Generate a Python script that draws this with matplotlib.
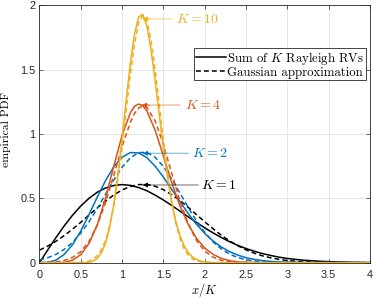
import matplotlib
matplotlib.use("Agg")
import matplotlib.pyplot as plt
from matplotlib.lines import Line2D

plt.rcParams['mathtext.fontset'] = 'cm'
plt.rcParams['axes.unicode_minus'] = False

# ---------------- data ----------------
x_k1 = [0.0, 0.1, 0.2, 0.3, 0.4, 0.5, 0.6, 0.7, 0.8, 0.9, 1.0, 1.1, 1.2, 1.3, 1.4,
        1.5, 1.6, 1.7, 1.8, 1.9, 2.0, 2.1, 2.2, 2.3, 2.4, 2.5, 2.6, 2.7, 2.8, 2.9,
        3.0, 3.2, 3.4, 3.6, 3.8, 4.0]
emp_k1 = [0, 0.0995, 0.196, 0.287, 0.369, 0.441, 0.501, 0.548, 0.581, 0.600,
          0.607, 0.601, 0.584, 0.559, 0.525, 0.487, 0.445, 0.401, 0.356, 0.313,
          0.271, 0.232, 0.196, 0.163, 0.135, 0.110, 0.089, 0.071, 0.056, 0.043,
          0.033, 0.019, 0.011, 0.006, 0.003, 0.001]
gau_k1 = [0.098, 0.129, 0.167, 0.211, 0.261, 0.314, 0.371, 0.426, 0.479, 0.527,
          0.565, 0.593, 0.607, 0.608, 0.594, 0.567, 0.529, 0.483, 0.430, 0.374,
          0.318, 0.264, 0.214, 0.170, 0.132, 0.100, 0.074, 0.053, 0.038, 0.026,
          0.017, 0.007, 0.003, 0.001, 0.0003, 0.0001]

x_k2 = x_k1
emp_k2 = [0, 0.003, 0.020, 0.065, 0.141, 0.247, 0.375, 0.511, 0.639, 0.746,
          0.820, 0.856, 0.853, 0.816, 0.750, 0.665, 0.570, 0.474, 0.382, 0.299,
          0.228, 0.169, 0.122, 0.086, 0.059, 0.039, 0.026, 0.016, 0.010, 0.006,
          0.004, 0.001, 0.0004, 0.0001, 0, 0]
gau_k2 = [0.022, 0.039, 0.065, 0.104, 0.158, 0.230, 0.319, 0.422, 0.534, 0.644,
          0.742, 0.815, 0.856, 0.857, 0.819, 0.747, 0.651, 0.541, 0.429, 0.325,
          0.235, 0.162, 0.107, 0.067, 0.040, 0.023, 0.013, 0.007, 0.003, 0.0015,
          0.0007, 0.0001, 0, 0, 0, 0]

x_k4 = [0.0, 0.2, 0.3, 0.4, 0.5, 0.6, 0.7, 0.8, 0.9, 1.0, 1.1, 1.15, 1.2, 1.25,
        1.3, 1.4, 1.5, 1.6, 1.7, 1.8, 1.9, 2.0, 2.1, 2.2, 2.3, 2.4, 2.5, 2.6,
        2.8, 3.0, 4.0]
emp_k4 = [0, 0, 0.003, 0.020, 0.063, 0.150, 0.296, 0.504, 0.752, 0.992,
          1.166, 1.215, 1.233, 1.220, 1.179, 1.029, 0.829, 0.623, 0.441, 0.297,
          0.190, 0.114, 0.065, 0.034, 0.016, 0.007, 0.003, 0.001, 0.0002, 0, 0]
gau_k4 = [0.0008, 0.0069, 0.0176, 0.0409, 0.0865, 0.1667, 0.2925, 0.4675, 0.6808,
          0.9033, 1.0917, 1.1589, 1.2020, 1.2179, 1.2057, 1.1018, 0.9172, 0.6956,
          0.4806, 0.3025, 0.1734, 0.0906, 0.0431, 0.0187, 0.0074, 0.0027, 0.0009,
          0.0003, 0, 0, 0]

x_k10 = [0.0, 0.5, 0.55, 0.6, 0.65, 0.7, 0.75, 0.8, 0.85, 0.9, 0.95, 1.0, 1.05,
         1.1, 1.15, 1.2, 1.25, 1.3, 1.35, 1.4, 1.45, 1.5, 1.55, 1.6, 1.65, 1.7,
         1.75, 1.8, 1.85, 1.9, 1.95, 2.0, 2.1, 2.2, 4.0]
emp_k10 = [0, 0, 0.0002, 0.0037, 0.0131, 0.0346, 0.0774, 0.1535, 0.2756, 0.4534,
           0.6885, 0.9678, 1.2690, 1.5530, 1.7784, 1.9100, 1.9287, 1.8361, 1.6525,
           1.4105, 1.1457, 0.8883, 0.6594, 0.4694, 0.3210, 0.2106, 0.1326, 0.0798,
           0.0459, 0.0251, 0.0130, 0.0064, 0.0013, 0.0002, 0]
gau_k10 = [0, 0.0026, 0.0061, 0.0134, 0.0279, 0.0546, 0.1011, 0.1763, 0.2903,
           0.4510, 0.6608, 0.9120, 1.1899, 1.4646, 1.7008, 1.8632, 1.9257, 1.8776,
           1.7271, 1.4987, 1.2271, 0.9477, 0.6906, 0.4747, 0.3079, 0.1884, 0.1087,
           0.0592, 0.0304, 0.0147, 0.0067, 0.0029, 0.0004, 0.0001, 0]

k_values = [1, 2, 4, 10]
colors = ['#000000', '#0072BD', '#D95319', '#EDB120']
# annotation: arrow tip (x, y), arrow tail x, text x
ann_tip = [(1.25, 0.604), (1.25, 0.85), (1.24, 1.225), (1.25, 1.895)]
ann_tail_x = [1.92, 1.80, 1.70, 1.60]
ann_text_x = [1.96, 1.85, 1.76, 1.65]

x_ticks = [0, 0.5, 1, 1.5, 2, 2.5, 3, 3.5, 4]
x_ticklabels = ['0', '0.5', '1', '1.5', '2', '2.5', '3', '3.5', '4']
y_ticks = [0, 0.5, 1, 1.5, 2]
y_ticklabels = ['0', '0.5', '1', '1.5', '2']

legend_labels = ['Sum of $K$ Rayleigh RVs', 'Gaussian approximation']

# ---------------- figure ----------------
fig = plt.figure(figsize=(3.74, 3.0), dpi=100)
ax = fig.add_axes([0.1056, 0.1243, 0.8837, 0.858])

series = [(x_k1, emp_k1, gau_k1), (x_k2, emp_k2, gau_k2),
          (x_k4, emp_k4, gau_k4), (x_k10, emp_k10, gau_k10)]
lw = 1.1
for (xs, emp, gau), c in zip(series, colors):
    ax.plot(xs, emp, color=c, lw=lw, solid_joinstyle='round')
    ax.plot(xs, gau, color=c, lw=lw, dashes=(3.2, 2.0))

for k, c, tip, tx, txt in zip(k_values, colors, ann_tip, ann_tail_x, ann_text_x):
    # light connector line
    ax.annotate('', xy=tip, xytext=(tx, tip[1]),
                arrowprops=dict(arrowstyle='-', color=c, lw=0.9, alpha=0.45,
                                shrinkA=0, shrinkB=0))
    # solid arrow head
    ax.annotate('', xy=tip, xytext=(tip[0] + 0.09, tip[1]),
                arrowprops=dict(arrowstyle='-|>', color=c, lw=0.6,
                                mutation_scale=7, shrinkA=0, shrinkB=0))
    ax.text(txt, tip[1], r'$K=%d$' % k, color=c, fontsize=10,
            ha='left', va='center')

ax.set_xlim(0, 4)
ax.set_ylim(0, 2)
ax.set_xticks(x_ticks)
ax.set_xticklabels(x_ticklabels, fontfamily='Liberation Sans', fontsize=7.8)
ax.set_yticks(y_ticks)
ax.set_yticklabels(y_ticklabels, fontfamily='Liberation Sans', fontsize=7.8)
ax.tick_params(direction='in', length=3, width=0.5, colors='#262626',
               top=True, right=True)
ax.tick_params(axis='x', pad=5)
ax.tick_params(axis='y', pad=3)
ax.grid(True, color='#e3e3e3', lw=0.6)
ax.set_axisbelow(True)
for s in ax.spines.values():
    s.set_color('#262626')
    s.set_linewidth(0.6)

ax.set_xlabel('$x/K$', fontsize=9)
ax.xaxis.label.set_va('center')
ax.xaxis.set_label_coords(0.5, -0.107)
ax.set_ylabel('empirical PDF', fontfamily='cmr10', fontsize=8.4)
ax.yaxis.label.set_va('center')
ax.yaxis.set_label_coords(-0.10, 0.519)

handles = [Line2D([], [], color='k', lw=lw),
           Line2D([], [], color='k', lw=lw, dashes=(3.2, 2.0))]
leg = ax.legend(handles, legend_labels, loc='upper right',
                bbox_to_anchor=(0.988, 0.833), prop={'family': 'cmr10', 'size': 9.2},
                handlelength=2.4, handletextpad=0.08, labelspacing=0.0,
                borderpad=0.12, borderaxespad=0, fancybox=False, framealpha=1,
                edgecolor='#262626')
leg.get_frame().set_linewidth(0.6)

fig.savefig('out.png', dpi=100)
